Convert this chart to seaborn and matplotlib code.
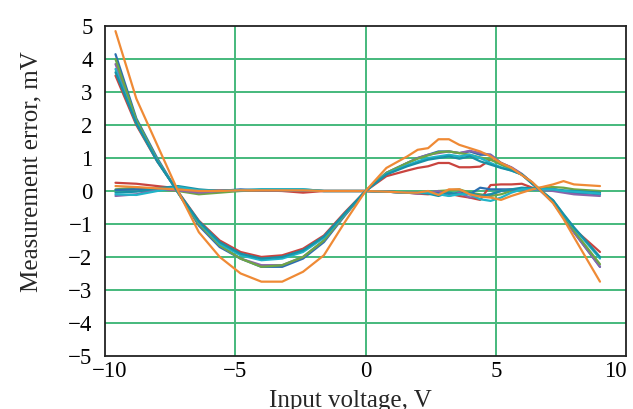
import matplotlib

matplotlib.use("Agg")

import matplotlib.pyplot as plt
import matplotlib.transforms as mtransforms
import pandas as pd
import seaborn as sns

# input voltage sample points, V
voltage = [-9.6, -8.8, -8.0, -7.2, -6.4, -5.6, -4.8, -4.0, -3.2, -2.4, -1.6, -0.8, 0.0,
           0.8, 1.6, 2.0, 2.4, 2.8, 3.2, 3.6, 4.0, 4.4, 4.8, 5.2, 5.6, 6.0, 6.4, 7.2, 7.6, 8.0, 9.0]

# uncorrected measurement error, mV
raw_red = [3.5, 2.0, 0.9, -0.02, -0.9, -1.5, -1.85, -2.0, -1.95, -1.75, -1.35, -0.65, 0.0,
           0.45, 0.62, 0.7, 0.75, 0.85, 0.85, 0.72, 0.72, 0.74, 0.95, 0.85, 0.7, 0.5, 0.22, -0.3, -0.75, -1.15, -1.85]
raw_blue = [4.15, 2.2, 1.0, -0.05, -1.05, -1.7, -2.05, -2.3, -2.3, -2.05, -1.55, -0.75, 0.0,
            0.55, 0.85, 1.0, 1.1, 1.2, 1.2, 1.15, 1.2, 1.1, 1.1, 0.85, 0.7, 0.5, 0.25, -0.35, -0.8, -1.25, -2.3]
raw_purple = [3.85, 2.1, 0.95, -0.05, -1.0, -1.65, -2.05, -2.25, -2.25, -2.0, -1.5, -0.72, 0.0,
              0.55, 0.85, 1.0, 1.1, 1.15, 1.2, 1.15, 1.22, 1.15, 1.1, 0.85, 0.72, 0.52, 0.25, -0.35, -0.8, -1.25, -2.3]
raw_green = [4.0, 2.15, 0.95, -0.05, -1.0, -1.65, -2.05, -2.3, -2.25, -2.0, -1.5, -0.72, 0.0,
             0.55, 0.85, 0.98, 1.08, 1.18, 1.2, 1.15, 1.1, 1.02, 0.95, 0.8, 0.65, 0.5, 0.25, -0.3, -0.75, -1.2, -2.22]
raw_cyan = [3.7, 2.05, 0.92, -0.04, -0.95, -1.6, -1.95, -2.1, -2.05, -1.85, -1.42, -0.7, 0.0,
            0.52, 0.78, 0.9, 1.0, 1.05, 1.1, 1.05, 1.1, 1.0, 0.85, 0.72, 0.62, 0.5, 0.22, -0.3, -0.72, -1.12, -2.05]
raw_teal = [3.6, 2.05, 0.9, -0.03, -0.92, -1.55, -1.9, -2.05, -2.0, -1.8, -1.38, -0.68, 0.0,
            0.5, 0.75, 0.85, 0.95, 1.0, 1.05, 0.98, 1.05, 0.9, 0.8, 0.7, 0.62, 0.5, 0.22, -0.28, -0.7, -1.1, -2.0]
raw_orange = [4.85, 2.8, 1.4, 0.0, -1.25, -2.0, -2.5, -2.75, -2.75, -2.45, -1.95, -0.95, 0.0,
              0.7, 1.05, 1.25, 1.3, 1.57, 1.57, 1.4, 1.3, 1.2, 1.05, 0.85, 0.7, 0.48, 0.27, -0.37, -0.85, -1.4, -2.75]

# corrected measurement error, mV
cor_red = [0.25, 0.22, 0.15, 0.08, 0.02, 0.02, 0.02, 0.02, 0.0, -0.05, 0.0, 0.0, 0.0,
           -0.02, -0.05, -0.08, -0.1, -0.05, -0.08, -0.15, -0.2, -0.27, 0.18, 0.2, 0.2, 0.22, 0.1, 0.05, 0.0, -0.05, -0.05]
cor_orange = [0.15, 0.12, 0.08, 0.05, 0.0, 0.0, 0.02, 0.02, 0.02, 0.02, 0.0, 0.0, 0.0,
              -0.02, -0.05, -0.05, 0.0, -0.12, 0.05, 0.05, -0.1, -0.17, -0.2, -0.27, -0.15, -0.05, 0.05, 0.2, 0.3, 0.2, 0.15]
cor_green = [0.05, 0.1, 0.05, 0.0, -0.1, -0.05, 0.0, 0.02, 0.02, 0.02, 0.0, 0.0, 0.0,
             -0.02, -0.05, -0.05, -0.05, 0.0, 0.02, 0.05, -0.05, -0.1, -0.15, -0.1, 0.0, 0.05, 0.08, 0.12, 0.1, 0.05, 0.0]
cor_blue = [0.03, 0.05, 0.05, 0.05, 0.0, 0.0, 0.05, 0.02, 0.02, 0.02, 0.0, 0.0, 0.0,
            -0.02, -0.05, -0.05, -0.02, -0.05, -0.1, -0.05, -0.1, 0.1, 0.05, 0.05, 0.05, 0.05, 0.05, 0.05, 0.0, -0.05, -0.1]
cor_purple = [-0.15, -0.1, 0.05, 0.02, -0.05, 0.0, 0.02, 0.02, 0.02, 0.02, 0.0, 0.0, 0.0,
              -0.02, -0.05, -0.08, -0.05, 0.0, -0.15, -0.05, -0.2, -0.15, -0.1, 0.0, 0.05, 0.05, 0.05, 0.0, -0.05, -0.1, -0.15]
cor_teal = [-0.05, -0.02, 0.08, 0.15, 0.05, 0.0, 0.02, 0.05, 0.05, 0.05, 0.0, 0.0, 0.0,
            -0.02, -0.05, -0.05, -0.08, -0.15, -0.05, -0.1, -0.05, -0.15, -0.1, 0.0, 0.05, 0.1, 0.08, 0.05, 0.02, 0.0, -0.05]
cor_cyan = [-0.1, -0.12, 0.0, 0.12, 0.02, 0.0, 0.02, 0.05, 0.05, 0.05, 0.0, 0.0, 0.0,
            -0.02, -0.05, -0.05, -0.05, -0.1, -0.15, -0.1, -0.1, -0.25, -0.3, -0.2, -0.05, 0.05, 0.05, 0.05, 0.0, -0.02, -0.08]

COLORS = {
    "red": "#c9443f",
    "orange": "#ef8a35",
    "green": "#6ea646",
    "blue": "#2a6fb0",
    "purple": "#8a64aa",
    "teal": "#1890a6",
    "cyan": "#20b4c8",
}

series = [
    ("cor_red", "red", cor_red), ("cor_green", "green", cor_green),
    ("cor_blue", "blue", cor_blue), ("cor_purple", "purple", cor_purple),
    ("cor_teal", "teal", cor_teal), ("cor_cyan", "cyan", cor_cyan),
    ("cor_orange", "orange", cor_orange),
    ("raw_red", "red", raw_red), ("raw_blue", "blue", raw_blue),
    ("raw_purple", "purple", raw_purple), ("raw_green", "green", raw_green),
    ("raw_cyan", "cyan", raw_cyan), ("raw_teal", "teal", raw_teal),
    ("raw_orange", "orange", raw_orange),
]

frames = [pd.DataFrame({"voltage": voltage, "error": vals, "series": name})
          for name, _, vals in series]
data = pd.concat(frames, ignore_index=True)
palette = {name: COLORS[c] for name, c, _ in series}

sns.set_theme(style="white")
plt.rcParams["font.family"] = ["Liberation Serif", "DejaVu Serif"]

fig, ax = plt.subplots(figsize=(6.33, 4.09), dpi=100)
fig.subplots_adjust(left=0.166, right=0.989, top=0.936, bottom=0.130)

for v in [-5, 0, 5]:
    ax.axvline(v, color="#45b97c", linewidth=1.4, zorder=0)
for h in range(-4, 5):
    ax.axhline(h, color="#45b97c", linewidth=1.4, zorder=0)

sns.lineplot(
    data=data,
    x="voltage",
    y="error",
    hue="series",
    palette=palette,
    linewidth=1.6,
    legend=False,
    sort=False,
    ax=ax,
)

ax.set_xlim(-10, 10)
ax.set_ylim(-5, 5)
ax.set_xticks([-10, -5, 0, 5, 10])
ax.set_yticks(range(-5, 6))
ax.tick_params(axis="both", labelsize=16.5, length=0, colors="black")
ax.tick_params(axis="y", pad=9)
ax.tick_params(axis="x", pad=4)

# end labels sit inside the frame like in the original figure
xlabels = ax.get_xticklabels()
xlabels[0].set_transform(xlabels[0].get_transform()
                         + mtransforms.ScaledTranslation(5 / 100, 0, fig.dpi_scale_trans))
xlabels[-1].set_transform(xlabels[-1].get_transform()
                          + mtransforms.ScaledTranslation(-11 / 100, 0, fig.dpi_scale_trans))

ax.set_xlabel("Input voltage, V", fontsize=18)
ax.set_ylabel("Measurement error, mV", fontsize=18)
ax.xaxis.set_label_coords(0.47, -0.103)
ax.yaxis.set_label_coords(-0.12, 0.56)
for spine in ax.spines.values():
    spine.set_color("#222222")
    spine.set_linewidth(1.3)

fig.savefig("out.png", dpi=100)
